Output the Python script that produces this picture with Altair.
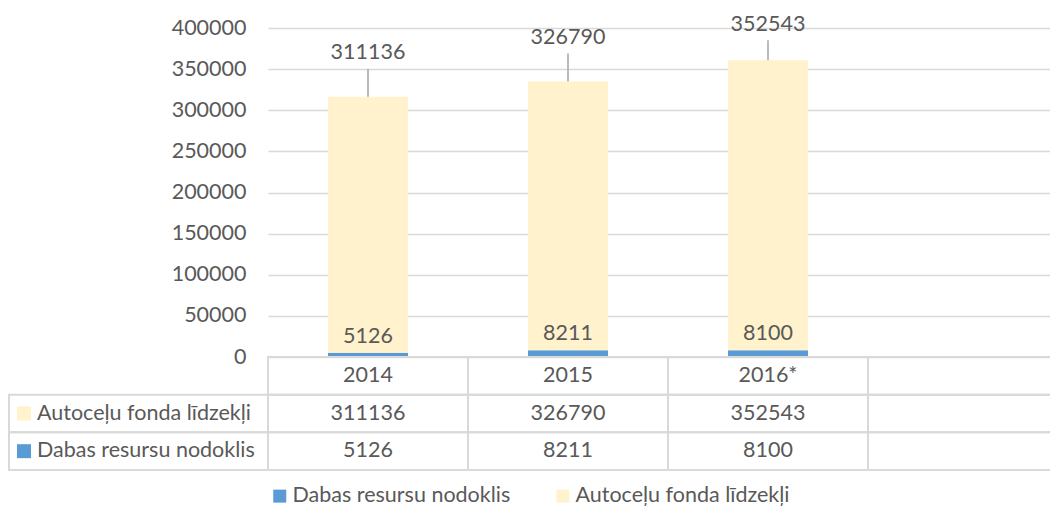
import altair as alt
import pandas as pd

# ---- data ----
years = ["2014", "2015", "2016*"]
blank_col = "·"
ser_auto = "Autoceļu fonda līdzekļi"
ser_dab = "Dabas resursu nodoklis"
autoc = [311136, 326790, 352543]
dabas = [5126, 8211, 8100]

# ---- style ----
FONT = "Lato"
FS = 21.5
TXT = "#595959"
GRID = "#D9D9D9"
BLUE = "#5B9BD5"
YEL = "#FFF2CC"

bar_rows = []
for y, a, d in zip(years, autoc, dabas):
    bar_rows.append({"year": y, "series": ser_dab, "value": d, "ord": 0})
    bar_rows.append({"year": y, "series": ser_auto, "value": a, "ord": 1})
bar_df = pd.DataFrame(bar_rows)
tot_df = pd.DataFrame({"year": years, "auto": autoc, "dab": dabas})

cols = years + [blank_col]
row_keys = ["hdr", ser_auto, ser_dab]
cell_df = pd.DataFrame([{"row": r, "year": c} for r in row_keys for c in cols])
txt_rows = []
for y, a, d in zip(years, autoc, dabas):
    txt_rows.append({"row": "hdr", "year": y, "label": y})
    txt_rows.append({"row": ser_auto, "year": y, "label": str(a)})
    txt_rows.append({"row": ser_dab, "year": y, "label": str(d)})
txt_df = pd.DataFrame(txt_rows)
lab_df = pd.DataFrame({"row": [ser_auto, ser_dab], "series": [ser_auto, ser_dab]})

xs = alt.Scale(domain=cols, range=[0, 800], paddingInner=0, paddingOuter=0)
X = alt.X("year:N", scale=xs, axis=None, title=None)

color = alt.Color(
    "series:N",
    scale=alt.Scale(domain=[ser_dab, ser_auto], range=[BLUE, YEL]),
    legend=alt.Legend(
        title=None, orient="none", legendX=1, legendY=457, direction="horizontal",
        symbolType="square", symbolSize=169, symbolStrokeWidth=0,
        labelFont=FONT, labelFontSize=FS, labelColor=TXT, columnPadding=41,
        labelOffset=2, padding=0, labelLimit=400,
    ),
)

bars = alt.Chart(bar_df).mark_bar(size=80).encode(
    x=X,
    y=alt.Y(
        "value:Q", stack="zero", title=None,
        scale=alt.Scale(domain=[0, 400000], nice=False),
        axis=alt.Axis(
            values=list(range(0, 400001, 50000)), format="d", domain=False, ticks=False,
            labelPadding=22, labelFont=FONT, labelFontSize=FS, labelColor=TXT,
            gridColor=GRID, gridWidth=1.5, title=None,
        ),
    ),
    color=color,
    order=alt.Order("ord:Q", sort="ascending"),
)

tops = alt.Chart(tot_df).transform_calculate(
    total="datum.auto + datum.dab",
    lab="min(datum.auto + datum.dab + 53000, 404000)",
    lead="min(datum.auto + datum.dab + 53000, 404000) - 19000",
)
top_text = tops.mark_text(font=FONT, fontSize=FS, color=TXT, baseline="middle").encode(
    x=X, y=alt.Y("lab:Q", title=None), text=alt.Text("auto:Q", format="d")
)
top_rule = tops.mark_rule(color="#A6A6A6", strokeWidth=1.5).encode(
    x=X, y=alt.Y("lead:Q", title=None), y2="total:Q"
)
bot_text = alt.Chart(tot_df).mark_text(
    font=FONT, fontSize=FS, color=TXT, baseline="middle", dy=-16
).encode(x=X, y=alt.Y("dab:Q", title=None), text=alt.Text("dab:Q", format="d"))

bar_group = alt.layer(bars, top_rule, top_text, bot_text)

ys = alt.Scale(domain=row_keys, range=[329, 442], paddingInner=0, paddingOuter=0)
Y = alt.Y("row:N", scale=ys, axis=None, title=None)

cells = alt.Chart(cell_df).mark_rect(
    fill="white", fillOpacity=0, stroke=GRID, strokeWidth=2
).encode(x=X, y=Y)
left_cells = alt.Chart(lab_df).mark_rect(
    fill="white", fillOpacity=0, stroke=GRID, strokeWidth=2
).encode(x=alt.value(-259), x2=alt.value(0), y=Y)
cell_text = alt.Chart(txt_df).mark_text(
    font=FONT, fontSize=FS, color=TXT, baseline="middle"
).encode(x=X, y=Y, text="label:N")
row_text = alt.Chart(lab_df).mark_text(
    font=FONT, fontSize=FS, color=TXT, baseline="middle", align="left"
).encode(x=alt.value(-231), y=Y, text="series:N")
swatch = alt.Chart(lab_df).mark_square(size=196, opacity=1, filled=True).encode(
    x=alt.value(-244), y=Y, color=alt.Color("series:N")
)

table_group = alt.layer(cells, left_cells, cell_text, row_text, swatch)

chart = (
    alt.layer(bar_group, table_group)
    .resolve_scale(y="independent")
    .properties(
        width=782, height=329,
        autosize=alt.AutoSizeParams(type="none"),
        padding={"left": 260, "top": 20, "right": 0, "bottom": 150},
        background="white",
    )
    .configure_view(stroke=None)
)

chart.save("out.html", embed_options={"renderer": "svg", "actions": False})
